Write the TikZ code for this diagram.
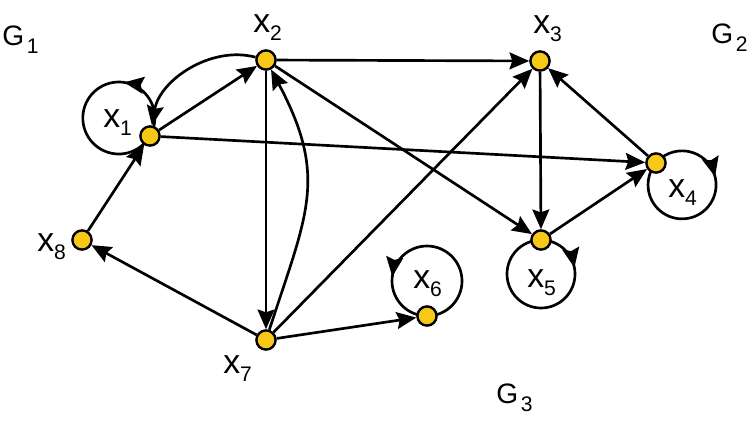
\documentclass[tikz,border=0pt]{standalone}
\usepackage{fontspec}
\setmainfont{Liberation Sans}
\usepackage{xcolor}
\usepackage{tikz}
\usetikzlibrary{arrows.meta, decorations.markings}

\definecolor{vgold}{RGB}{248,200,24}
\pgfdeclarelayer{bg}
\pgfsetlayers{bg,main}

\newcommand{\vx}[1]{x\raisebox{-6pt}{\fontsize{15}{15}\selectfont #1}}
\newcommand{\gx}[1]{G\kern2pt\raisebox{-6pt}{\fontsize{15}{15}\selectfont #1}}

\begin{document}
\begin{tikzpicture}[
    x=0.025cm, y=0.025cm,
    vert/.style={circle, draw, line width=1.7pt, fill=vgold,
                 minimum size=0.48cm, inner sep=0pt},
    arw/.style={line width=1.9pt, -{Stealth[length=14pt, width=12pt, inset=2pt]}},
    lp/.style={line width=1.9pt,
               decoration={markings, mark=at position #1 with
                 {\arrow{Stealth[length=14pt, width=12pt, inset=2pt]}}},
               postaction={decorate}},
    lbl/.style={anchor=base west, inner sep=0pt,
                font=\fontsize{24}{25}\selectfont},
    glbl/.style={anchor=base west, inner sep=0pt,
                 font=\fontsize{20}{22}\selectfont},
]
\useasboundingbox (0,0) rectangle (754,-430);

\node[vert] (x1) at (150,-136) {};
\node[vert] (x2) at (266,-60) {};
\node[vert] (x3) at (540,-61) {};
\node[vert] (x4) at (656,-163) {};
\node[vert] (x5) at (541,-240) {};
\node[vert] (x6) at (427,-316) {};
\node[vert] (x7) at (266,-340) {};
\node[vert] (x8) at (82,-240) {};

% loops
\begin{pgfonlayer}{bg}
\draw[lp=0.31] (x1.center) arc[start angle=-30, delta angle=360, radius=36];
\draw[lp=0.35] (x4.center) arc[start angle=140, delta angle=-360, radius=34];
\draw[lp=0.22] (x5.center) arc[start angle=90, delta angle=-360, radius=34];
\draw[lp=0.73] (x6.center) arc[start angle=-90, delta angle=360, radius=35];
\end{pgfonlayer}

\foreach \a/\b in {x1/x2, x8/x1, x1/x4, x2/x3, x2/x7, x2/x5,
                   x7/x3, x7/x6, x7/x8, x3/x5, x4/x3, x5/x4}
    \draw[arw] (\a) -- (\b);
\draw[arw] (x2) to[out=165, in=80, looseness=0.95] (x1);
\draw[arw] (x7) to[out=72, in=-62, looseness=1.2] (x2);

\node[lbl] (l1) at (103,-127) {\vx{1}};
\node[lbl] (l2) at (253,-32) {\vx{2}};
\node[lbl] (l3) at (533,-33) {\vx{3}};
\node[lbl] (l4) at (668,-197) {\vx{4}};
\node[lbl] (l5) at (527,-287) {\vx{5}};
\node[lbl] (l6) at (413,-288) {\vx{6}};
\node[lbl] (l7) at (223,-373) {\vx{7}};
\node[lbl] (l8) at (37,-251) {\vx{8}};

\node[glbl] (g1) at (2,-45) {\gx{1}};
\node[glbl] (g2) at (711,-43) {\gx{2}};
\node[glbl] (g3) at (496,-403) {\gx{3}};
\end{tikzpicture}
\end{document}
